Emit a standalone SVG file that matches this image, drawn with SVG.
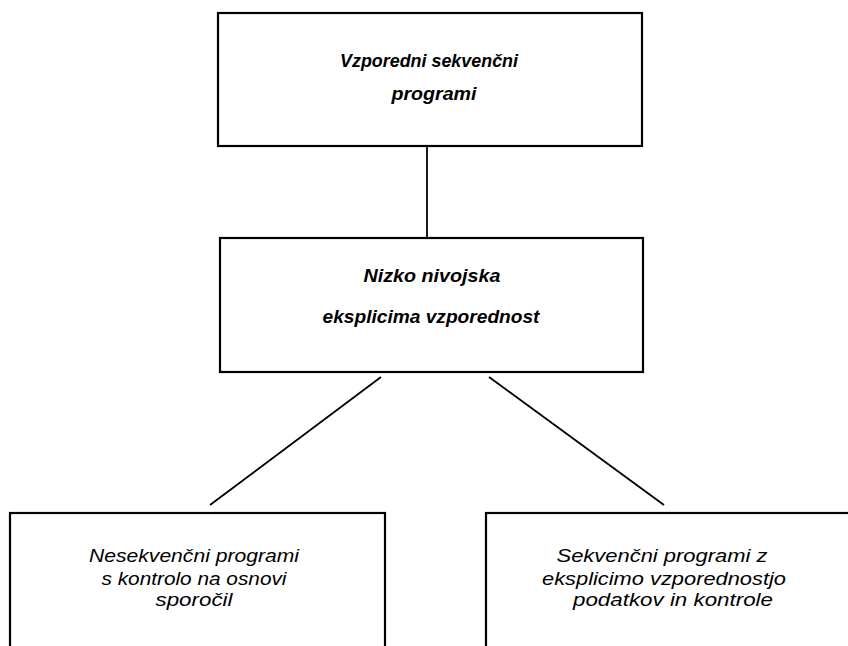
<svg xmlns="http://www.w3.org/2000/svg" width="848" height="646" viewBox="0 0 848 646">
<style>
.box{fill:#fff;stroke:#000;stroke-width:2.2}
.t1{font-family:"Liberation Sans",Arial,sans-serif;font-style:italic;font-weight:bold;font-size:18px;fill:#000;text-anchor:middle}
.t2{font-family:"Liberation Sans",Arial,sans-serif;font-style:italic;font-size:19px;fill:#000;text-anchor:middle}
.ln{stroke:#000;stroke-width:1.8;fill:none}
</style>
<rect width="848" height="646" fill="#fff"/>
<g id="connectors">
<line class="ln" x1="427" y1="146" x2="427" y2="238"/>
<line class="ln" x1="381" y1="377" x2="210" y2="505"/>
<line class="ln" x1="489" y1="377" x2="664" y2="505"/>
</g>
<g id="n1">
<rect class="box" x="218" y="13" width="424" height="133"/>
<text class="t1" x="429" y="67" textLength="178" lengthAdjust="spacingAndGlyphs">Vzporedni sekvenčni</text>
<text class="t1" x="434" y="100" textLength="85" lengthAdjust="spacingAndGlyphs">programi</text>
</g>
<g id="n2">
<rect class="box" x="220" y="238" width="423" height="134"/>
<text class="t1" x="432" y="282" textLength="137" lengthAdjust="spacingAndGlyphs">Nizko nivojska</text>
<text class="t1" x="431" y="323" textLength="217" lengthAdjust="spacingAndGlyphs">eksplicima  vzporednost</text>
</g>
<g id="n3">
<rect class="box" x="10" y="513" width="375" height="150"/>
<text class="t2" x="194" y="562" textLength="210" lengthAdjust="spacingAndGlyphs">Nesekvenčni programi</text>
<text class="t2" x="194" y="585" textLength="185" lengthAdjust="spacingAndGlyphs">s kontrolo na osnovi</text>
<text class="t2" x="194" y="606" textLength="77" lengthAdjust="spacingAndGlyphs">sporočil</text>
</g>
<g id="n4">
<rect class="box" x="486" y="513" width="380" height="150"/>
<text class="t2" x="662" y="562" textLength="211" lengthAdjust="spacingAndGlyphs">Sekvenčni programi z</text>
<text class="t2" x="664" y="585" textLength="244" lengthAdjust="spacingAndGlyphs">eksplicimo vzporednostjo</text>
<text class="t2" x="673" y="606" textLength="200" lengthAdjust="spacingAndGlyphs">podatkov  in  kontrole</text>
</g>
</svg>
